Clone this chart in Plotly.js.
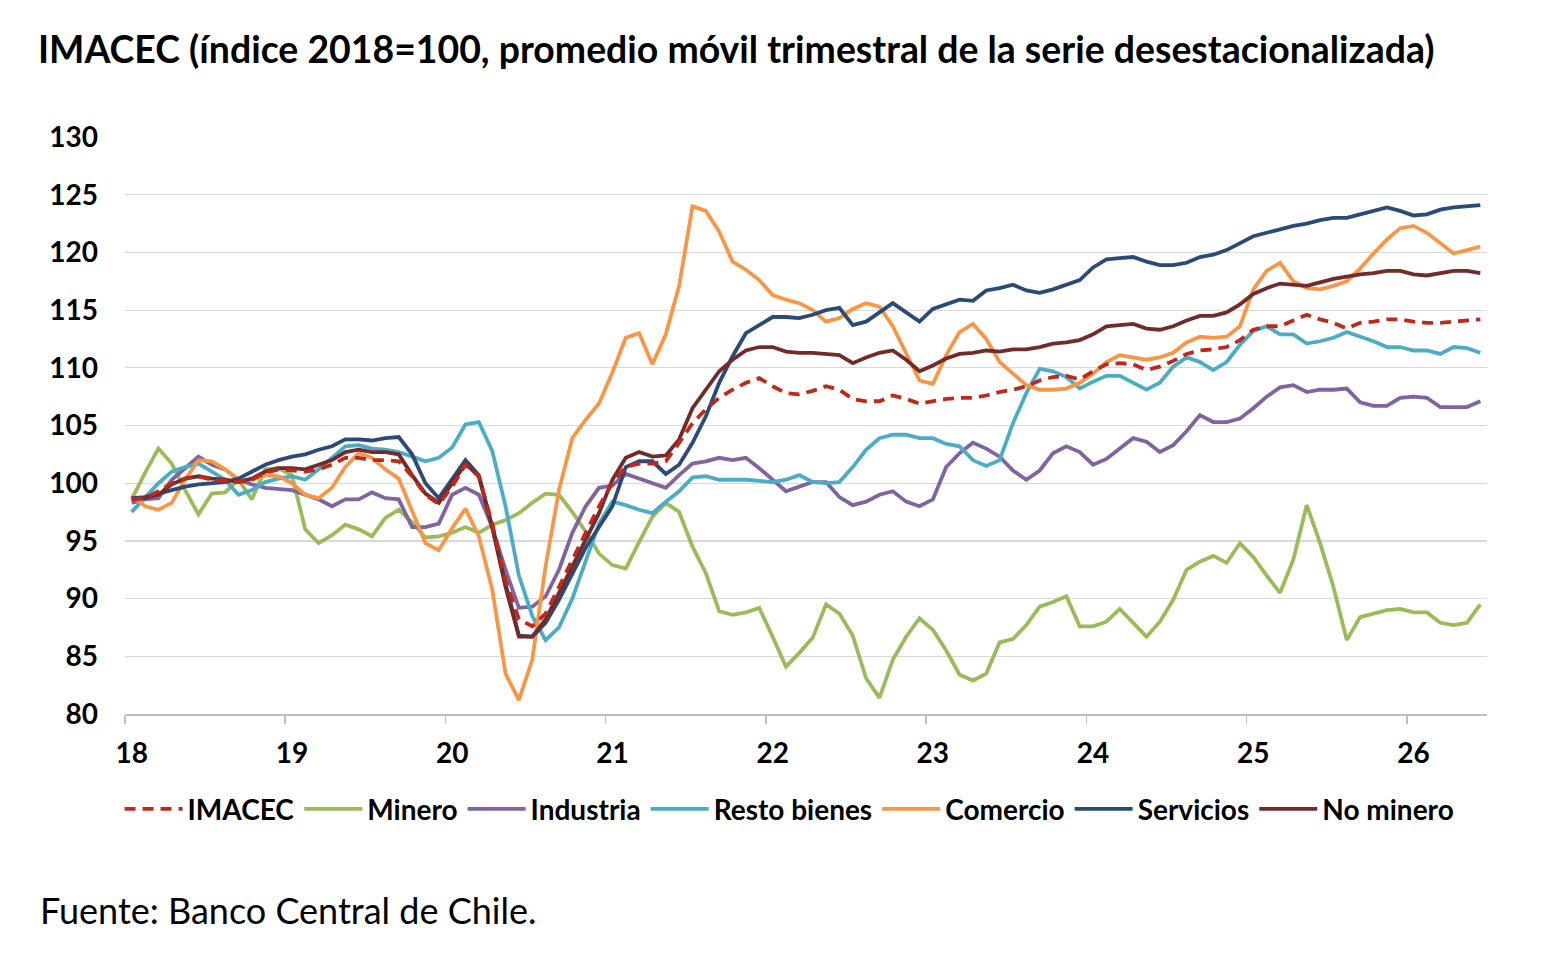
<!DOCTYPE html>
<html>
<head>
<meta charset="utf-8">
<script src="https://cdn.plot.ly/plotly-3.0.1.min.js"></script>
<style>
  html, body { margin: 0; padding: 0; background: #fff; }
  #chart { width: 1566px; height: 968px; }
</style>
</head>
<body>
<div id="chart"></div>
<script>
// meses ene-2018 .. jun-2026 (indice 0..101), etiqueta solo en enero
var years = ['18', '19', '20', '21', '22', '23', '24', '25', '26'];
var nMonths = 102;
var months = [];
for (var i = 0; i < nMonths; i++) months.push(i);

var imacec = [98.6, 98.7, 99.3, 100.0, 100.4, 100.6, 100.3, 100.2, 100.1, 100.3, 100.9, 101.2,
  101.1, 101.0, 101.2, 101.6, 102.2, 102.2, 102.0, 102.0, 101.9, 100.6, 99.0, 98.2,
  99.7, 101.6, 100.6, 96.5, 91.6, 88.2, 87.6, 88.7, 91.0, 93.4, 95.7, 98.0,
  100.0, 101.4, 101.7, 101.7, 101.9, 103.5, 105.2, 106.4, 107.4, 108.1, 108.7, 109.1,
  108.4, 107.8, 107.7, 108.0, 108.4, 108.1, 107.3, 107.1, 107.1, 107.6, 107.3, 106.9,
  107.1, 107.3, 107.4, 107.4, 107.6, 107.9, 108.1, 108.4, 108.9, 109.2, 109.3, 109.0,
  109.7, 110.3, 110.4, 110.3, 109.8, 110.1, 110.6, 111.2, 111.5, 111.6, 111.8, 112.4,
  113.3, 113.6, 113.6, 114.1, 114.6, 114.2, 113.9, 113.4, 113.9, 114.0, 114.2, 114.2,
  114.0, 113.9, 113.9, 114.0, 114.1, 114.2];

var minero = [98.6, 100.9, 103.0, 101.7, 99.4, 97.3, 99.1, 99.2, 100.3, 98.6, 101.2, 101.3,
  100.7, 96.0, 94.8, 95.5, 96.4, 96.0, 95.4, 97.0, 97.7, 96.6, 95.3, 95.4,
  95.7, 96.2, 95.7, 96.4, 96.8, 97.4, 98.3, 99.1, 99.0, 97.5, 95.8, 93.9,
  92.9, 92.6, 94.9, 97.1, 98.3, 97.5, 94.5, 92.2, 88.9, 88.6, 88.8, 89.2,
  86.7, 84.1, 85.3, 86.6, 89.5, 88.7, 86.8, 83.1, 81.4, 84.7, 86.7, 88.3,
  87.3, 85.5, 83.4, 82.9, 83.5, 86.2, 86.5, 87.7, 89.3, 89.7, 90.2, 87.6,
  87.6, 88.0, 89.1, 87.9, 86.7, 88.0, 89.9, 92.5, 93.2, 93.7, 93.1, 94.8,
  93.6, 92.0, 90.5, 93.4, 98.1, 94.8, 91.0, 86.4, 88.4, 88.7, 89.0, 89.1,
  88.8, 88.8, 87.9, 87.7, 87.9, 89.5];

var industria = [98.3, 98.6, 98.7, 100.3, 101.3, 102.3, 101.6, 101.2, 100.3, 99.9, 99.6, 99.5,
  99.4, 99.0, 98.6, 98.0, 98.6, 98.6, 99.2, 98.7, 98.6, 96.2, 96.2, 96.5,
  99.0, 99.6, 99.0, 96.2, 92.5, 89.2, 89.3, 90.2, 92.5, 95.7, 98.0, 99.6,
  99.8, 100.8, 100.4, 100.0, 99.6, 100.7, 101.7, 101.9, 102.2, 102.0, 102.2, 101.3,
  100.3, 99.3, 99.7, 100.1, 100.1, 98.8, 98.1, 98.4, 99.0, 99.3, 98.4, 98.0,
  98.6, 101.4, 102.6, 103.5, 103.0, 102.3, 101.1, 100.3, 101.1, 102.6, 103.2, 102.7,
  101.6, 102.1, 103.0, 103.9, 103.6, 102.7, 103.3, 104.5, 105.9, 105.3, 105.3, 105.6,
  106.5, 107.5, 108.3, 108.5, 107.9, 108.1, 108.1, 108.2, 107.0, 106.7, 106.7, 107.4,
  107.5, 107.4, 106.6, 106.6, 106.6, 107.1];

var restoBienes = [97.5, 98.8, 100.0, 101.0, 101.4, 101.7, 101.0, 100.3, 99.0, 99.4, 100.1, 100.4,
  100.6, 100.3, 101.2, 102.2, 103.2, 103.3, 103.0, 102.9, 102.7, 102.3, 101.9, 102.2,
  103.1, 105.1, 105.3, 102.8, 98.0, 92.0, 88.5, 86.4, 87.5, 90.0, 93.2, 96.5,
  98.4, 98.1, 97.7, 97.4, 98.4, 99.3, 100.5, 100.6, 100.3, 100.3, 100.3, 100.2,
  100.1, 100.3, 100.7, 100.1, 100.0, 100.1, 101.4, 102.9, 103.9, 104.2, 104.2, 103.9,
  103.9, 103.4, 103.2, 102.0, 101.5, 102.0, 105.2, 107.8, 109.9, 109.7, 109.2, 108.2,
  108.8, 109.3, 109.3, 108.7, 108.1, 108.7, 110.1, 110.9, 110.5, 109.8, 110.5, 112.0,
  113.2, 113.6, 112.9, 112.9, 112.1, 112.3, 112.6, 113.1, 112.7, 112.3, 111.8, 111.8,
  111.5, 111.5, 111.2, 111.8, 111.7, 111.3];

var comercio = [99.0, 98.0, 97.7, 98.3, 100.3, 102.0, 101.9, 101.2, 100.3, 100.3, 100.7, 100.6,
  100.0, 99.0, 98.7, 99.6, 101.4, 102.6, 102.2, 101.2, 100.4, 97.7, 94.8, 94.2,
  96.1, 97.8, 95.4, 90.8, 83.5, 81.2, 84.7, 92.8, 99.4, 103.9, 105.5, 106.9,
  109.6, 112.6, 113.0, 110.3, 112.9, 117.1, 124.0, 123.6, 121.8, 119.2, 118.5, 117.6,
  116.3, 115.9, 115.6, 115.0, 114.0, 114.3, 115.1, 115.6, 115.3, 113.6, 111.2, 108.9,
  108.6, 111.1, 113.1, 113.8, 112.5, 110.5, 109.5, 108.5, 108.1, 108.1, 108.2, 108.7,
  109.5, 110.5, 111.1, 110.9, 110.7, 110.9, 111.3, 112.2, 112.7, 112.6, 112.7, 113.6,
  116.8, 118.4, 119.1, 117.5, 116.9, 116.8, 117.1, 117.5, 118.6, 119.9, 121.1, 122.1,
  122.3, 121.7, 120.8, 119.9, 120.2, 120.5];

var servicios = [98.7, 98.8, 99.1, 99.4, 99.7, 99.9, 100.0, 100.1, 100.4, 101.0, 101.6, 102.0,
  102.3, 102.5, 102.9, 103.2, 103.8, 103.8, 103.7, 103.9, 104.0, 102.5, 100.0, 98.7,
  100.3, 102.0, 100.7, 96.2, 91.3, 86.8, 86.7, 87.9, 89.9, 92.1, 94.4, 96.2,
  98.0, 101.4, 101.9, 101.9, 100.8, 101.6, 103.5, 105.8, 108.7, 111.0, 113.0, 113.7,
  114.4, 114.4, 114.3, 114.6, 115.0, 115.2, 113.7, 114.0, 114.8, 115.6, 114.8, 114.0,
  115.1, 115.5, 115.9, 115.8, 116.7, 116.9, 117.2, 116.7, 116.5, 116.8, 117.2, 117.6,
  118.7, 119.4, 119.5, 119.6, 119.2, 118.9, 118.9, 119.1, 119.6, 119.8, 120.2, 120.8,
  121.4, 121.7, 122.0, 122.3, 122.5, 122.8, 123.0, 123.0, 123.3, 123.6, 123.9, 123.6,
  123.2, 123.3, 123.7, 123.9, 124.0, 124.1];

var noMinero = [98.6, 98.7, 99.0, 99.9, 100.4, 100.6, 100.4, 100.3, 100.1, 100.4, 101.0, 101.3,
  101.3, 101.2, 101.6, 102.0, 102.7, 102.9, 102.7, 102.7, 102.5, 100.7, 99.1, 98.3,
  100.0, 101.7, 100.6, 96.2, 91.0, 86.7, 86.7, 88.2, 90.5, 92.8, 95.2, 97.4,
  100.3, 102.2, 102.7, 102.3, 102.4, 103.8, 106.5, 108.1, 109.7, 110.7, 111.5, 111.8,
  111.8, 111.4, 111.3, 111.3, 111.2, 111.1, 110.4, 110.9, 111.3, 111.5, 110.7, 109.7,
  110.2, 110.8, 111.2, 111.3, 111.5, 111.4, 111.6, 111.6, 111.8, 112.1, 112.2, 112.4,
  112.9, 113.6, 113.7, 113.8, 113.4, 113.3, 113.6, 114.1, 114.5, 114.5, 114.8, 115.5,
  116.4, 116.9, 117.3, 117.2, 117.1, 117.4, 117.7, 117.9, 118.1, 118.2, 118.4, 118.4,
  118.1, 118.0, 118.2, 118.4, 118.4, 118.2];

var FONT = 'Lato, "Open Sans", sans-serif';

function serie(name, y, color, dash) {
  return {
    x: months, y: y, name: name, type: 'scatter', mode: 'lines',
    line: { color: color, width: 3.8, dash: dash || 'solid' }
  };
}

// orden de la leyenda
var data = [
  serie('IMACEC', imacec, '#C0281E', '11px,7px'),
  serie('Minero', minero, '#9BBB59'),
  serie('Industria', industria, '#8064A2'),
  serie('Resto bienes', restoBienes, '#4BACC6'),
  serie('Comercio', comercio, '#F79646'),
  serie('Servicios', servicios, '#2C4A78'),
  serie('No minero', noMinero, '#722B2B')
];
// IMACEC encima de las demas, leyenda igual
data.push(data.shift());
data[data.length - 1].legendrank = 1;
data.forEach(function (d, k) { if (d.name !== 'IMACEC') d.legendrank = k + 2; });

var tickVals = years.map(function (y, k) { return k * 12; });

var layout = {
  width: 1566, height: 968,
  margin: { l: 125, r: 79, t: 137, b: 254 },
  paper_bgcolor: '#fff', plot_bgcolor: '#fff',
  font: { family: FONT, color: '#000' },
  title: {
    text: '<b>IMACEC (índice 2018=100, promedio móvil trimestral de la serie desestacionalizada)</b>',
    font: { family: FONT, size: 37.4, color: '#000' },
    x: 38 / 1566, xanchor: 'left', xref: 'container',
    y: 1 - 50 / 968, yanchor: 'middle', yref: 'container'
  },
  xaxis: {
    range: [-0.5, 101.5],
    tickmode: 'array', tickvals: tickVals, ticktext: years.map(function (y) { return '<b>' + y + '</b>'; }),
    ticks: '', tickfont: { size: 28 },
    ticklabelstandoff: 14,
    showgrid: false, zeroline: false,
    showline: true, linecolor: '#BFBFBF', linewidth: 1.5,
    minor: { tick0: -0.5, dtick: 12, ticks: 'outside', ticklen: 8, tickcolor: '#BFBFBF', tickwidth: 1.5, showgrid: false },
    fixedrange: true
  },
  yaxis: {
    range: [80, 130], dtick: 5, tickfont: { size: 28 },
    tickprefix: '<b>', ticksuffix: '</b>',
    showgrid: true, gridcolor: '#D9D9D9', gridwidth: 1.2,
    zeroline: false, showline: false, ticks: '',
    ticklabelstandoff: 26,
    fixedrange: true
  },
  showlegend: true,
  legend: {
    orientation: 'h', x: -0.004, xanchor: 'left', y: -0.165, yanchor: 'middle',
    font: { family: FONT, size: 28, color: '#000' },
    traceorder: 'normal', itemwidth: 58, bgcolor: 'rgba(0,0,0,0)'
  },
  annotations: [{
    text: 'Fuente: Banco Central de Chile.',
    xref: 'paper', yref: 'paper', x: -0.0639, xanchor: 'left', y: -0.34, yanchor: 'middle',
    showarrow: false, font: { family: FONT, size: 36, color: '#000' }
  }],
  hovermode: false
};

// nombres en negrita en la leyenda
data.forEach(function (d) { d.legendgroup = d.name; d.name = '<b>' + d.name + '</b>'; });

Plotly.newPlot('chart', data, layout, { staticPlot: true, displayModeBar: false });
</script>
</body>
</html>
